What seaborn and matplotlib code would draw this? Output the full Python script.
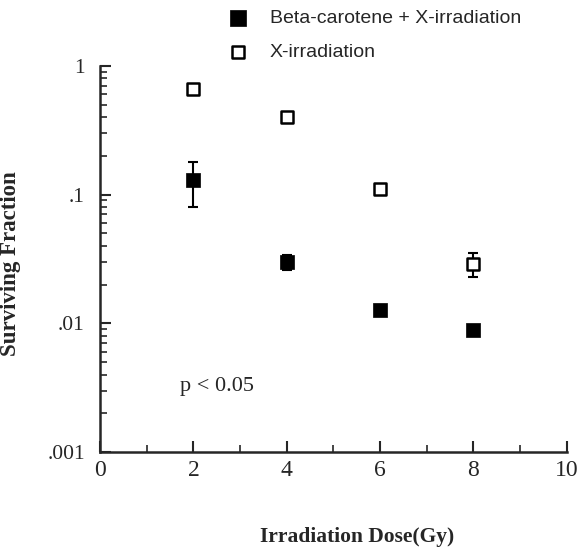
import numpy as np
import pandas as pd
import seaborn as sns
import matplotlib.pyplot as plt

# values
dose = [2, 4, 6, 8]
beta_surv = [0.13, 0.030, 0.0128, 0.0088]
beta_err = [0.05, 0.004, 0.001, 0.0]
xray_surv = [0.66, 0.40, 0.11, 0.029]
xray_err = [0.0, 0.0, 0.0, 0.006]
ytick_vals = [0.001, 0.01, 0.1, 1]
ytick_labels = ['.001', '.01', '.1', '1']

sns.set_style("ticks")
plt.rcParams['font.family'] = ['Liberation Serif', 'DejaVu Serif']

df = pd.DataFrame({'dose': dose * 2,
                   'surv': beta_surv + xray_surv,
                   'group': ['Beta-carotene + X-irradiation'] * 4 + ['X-irradiation'] * 4})

fig = plt.figure(figsize=(5.85, 5.48), dpi=100)
ax = fig.add_axes([0.171, 0.175, 0.798, 0.705])

# error bars first so markers sit on top
ax.errorbar(dose, beta_surv, yerr=beta_err, fmt='none', ecolor='black',
            elinewidth=1.5, capsize=3.5, capthick=1.5, zorder=2)
ax.errorbar(dose, xray_surv, yerr=xray_err, fmt='none', ecolor='black',
            elinewidth=1.5, capsize=3.5, capthick=1.5, zorder=2)

sns.scatterplot(data=df[df.group == 'Beta-carotene + X-irradiation'], x='dose', y='surv',
                marker='s', s=100, color='black', edgecolor='black', linewidth=0.5,
                ax=ax, zorder=3, label='Beta-carotene + X-irradiation', legend=False)
sns.scatterplot(data=df[df.group == 'X-irradiation'], x='dose', y='surv',
                marker='s', s=70, facecolor='white', edgecolor='black', linewidth=1.8,
                ax=ax, zorder=3, label='X-irradiation', legend=False)

ax.set_yscale('log')
ax.set_ylim(0.001, 1)
ax.set_xlim(0, 10)
ax.set_xticks([0, 2, 4, 6, 8, 10])
ax.set_xticks([1, 3, 5, 7, 9], minor=True)
ax.set_yticks(ytick_vals, ytick_labels)
ax.yaxis.set_minor_locator(plt.matplotlib.ticker.LogLocator(base=10, subs=np.arange(2, 10)))
ax.yaxis.set_minor_formatter(plt.NullFormatter())

ax.tick_params(which='major', direction='in', length=8, width=1.5)
ax.tick_params(which='minor', direction='in', length=5, width=1.2)
ax.tick_params(axis='x', which='major', labelsize=17, pad=6)
ax.tick_params(axis='y', which='major', labelsize=15.5, pad=11)
for s in ['left', 'bottom']:
    ax.spines[s].set_linewidth(1.8)
sns.despine(ax=ax)

ax.set_xlabel('Irradiation Dose(Gy)', fontsize=15.5, fontweight='bold')
ax.set_ylabel('Surviving Fraction', fontsize=16.5, fontweight='bold')
ax.xaxis.set_label_coords(0.55, -0.195)
ax.yaxis.set_label_coords(-0.17, 0.487)

ax.text(1.71, 0.0030, 'p < 0.05', fontsize=16, va='baseline')

h, l = ax.get_legend_handles_labels()
fig.legend(h, l, loc='upper left', bbox_to_anchor=(0.343, 1.015), frameon=False,
           prop={'family': 'Liberation Sans', 'size': 14}, labelspacing=0.85,
           handletextpad=0.65, markerscale=1.1)

fig.savefig('out.png', dpi=100)
